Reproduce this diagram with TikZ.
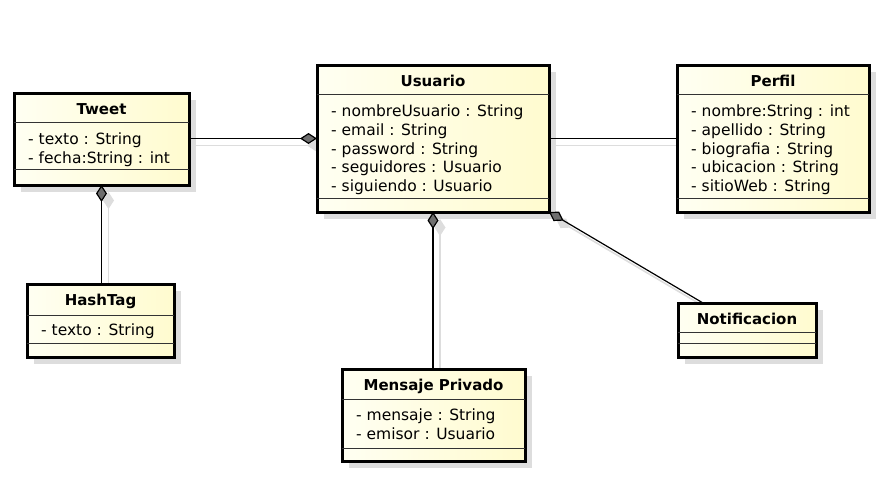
\documentclass[tikz,border=0pt]{standalone}
\usepackage{fontspec}
\setmainfont{DejaVu Sans}
\usetikzlibrary{arrows.meta,shadows,backgrounds}
\definecolor{clsL}{HTML}{FFFFF2}
\definecolor{clsR}{HTML}{FFFBCF}
\definecolor{shgray}{HTML}{DDDDDD}
\definecolor{diamgray}{HTML}{6E6E6E}
\definecolor{sepgray}{HTML}{333333}
\tikzset{
  umlclass/.style={draw=black, line width=3pt, rectangle, inner sep=0pt, outer sep=0pt,
    anchor=north west, left color=clsL, right color=clsR,
    drop shadow={shadow xshift=7pt, shadow yshift=-7pt, fill=shgray, opacity=1}},
  ttl/.style={anchor=base, inner sep=0pt, font=\bfseries\fontsize{15}{18}\selectfont},
  attr/.style={anchor=base west, inner sep=0pt, font=\fontsize{15.5}{19}\selectfont},
  sepline/.style={draw=sepgray, line width=0.8pt},
  comp/.style={draw=black, line width=1.2pt, arrows={Diamond[length=17pt,width=11pt,fill=diamgray]-}},
  assoc/.style={draw=black, line width=1.2pt},
  cshadow/.style={draw=shgray, line width=1.6pt, transform canvas={shift={(7pt,-7pt)}}},
  cshadowcomp/.style={cshadow, arrows={Diamond[length=17pt,width=11pt,fill=shgray]-}},
}
\newcommand\umlattrs[2]{%
  \foreach \t [count=\i] in {#2} {%
    \node[attr] (#1-a\i) at ([xshift=14pt,yshift={-51.5pt-(\i-1)*18.75pt}]#1.north west) {\t};}}
\newcommand\umlseps[3]{%
  \draw[sepline] ([yshift=-#2pt]#1.north west) -- ([yshift=-#2pt]#1.north east);
  \draw[sepline] ([yshift=-#3pt]#1.north west) -- ([yshift=-#3pt]#1.north east);}
\begin{document}
\begin{tikzpicture}[x=1pt,y=-1pt]
\useasboundingbox (0,0) rectangle (882,503);

% Tweet
\node[umlclass, minimum width=175pt, minimum height=92pt] (tweet) at (14,93) {};
\umlseps{tweet}{29}{76}
\node[ttl] (tweet-t) at ([yshift=-21.5pt]tweet.north) {Tweet};
\umlattrs{tweet}{- texto : String, - fecha:String : int}

% Usuario
\node[umlclass, minimum width=232pt, minimum height=147pt] (usuario) at (317,65) {};
\umlseps{usuario}{29}{133}
\node[ttl] (usuario-t) at ([yshift=-21.5pt]usuario.north) {Usuario};
\umlattrs{usuario}{- nombreUsuario : String, - email : String, - password : String, - seguidores : Usuario, - siguiendo : Usuario}

% Perfil
\node[umlclass, minimum width=192pt, minimum height=147pt] (perfil) at (677,65) {};
\umlseps{perfil}{29}{133}
\node[ttl] (perfil-t) at ([yshift=-21.5pt]perfil.north) {Perfil};
\umlattrs{perfil}{- nombre:String : int, - apellido : String, - biografia : String, - ubicacion : String, - sitioWeb : String}

% HashTag
\node[umlclass, minimum width=147pt, minimum height=73pt] (hashtag) at (27,284) {};
\umlseps{hashtag}{31}{59}
\node[ttl] (hashtag-t) at ([yshift=-21.5pt]hashtag.north) {HashTag};
\umlattrs{hashtag}{- texto : String}

% Mensaje Privado
\node[umlclass, minimum width=183pt, minimum height=92pt] (mensaje) at (342,369) {};
\umlseps{mensaje}{30}{79}
\node[ttl] (mensaje-t) at ([yshift=-21.5pt]mensaje.north) {Mensaje Privado};
\umlattrs{mensaje}{- mensaje : String, - emisor : Usuario}

% Notificacion
\node[umlclass, minimum width=138pt, minimum height=54pt] (notif) at (678,303) {};
\umlseps{notif}{29}{40}
\node[ttl] (notif-t) at ([yshift=-21.5pt]notif.north) {Notificacion};

% connectors
\coordinate (notifend) at ([xshift=25pt]notif.north west);
\draw[comp] (usuario.west) -- (usuario.west -| tweet.east);
\draw[comp] (tweet.south) -- (tweet.south |- hashtag.north);
\draw[assoc] (usuario.east) -- (perfil.west);
\draw[comp] (usuario.south) -- (usuario.south |- mensaje.north);
\draw[comp] (usuario.south east) -- (notifend);

% connector shadows
\begin{scope}[on background layer]
\draw[cshadowcomp] (usuario.west) -- (usuario.west -| tweet.east);
\draw[cshadowcomp] (tweet.south) -- (tweet.south |- hashtag.north);
\draw[cshadow] (usuario.east) -- (perfil.west);
\draw[cshadowcomp] (usuario.south) -- (usuario.south |- mensaje.north);
\draw[cshadowcomp] (usuario.south east) -- (notifend);
\end{scope}
\end{tikzpicture}
\end{document}
